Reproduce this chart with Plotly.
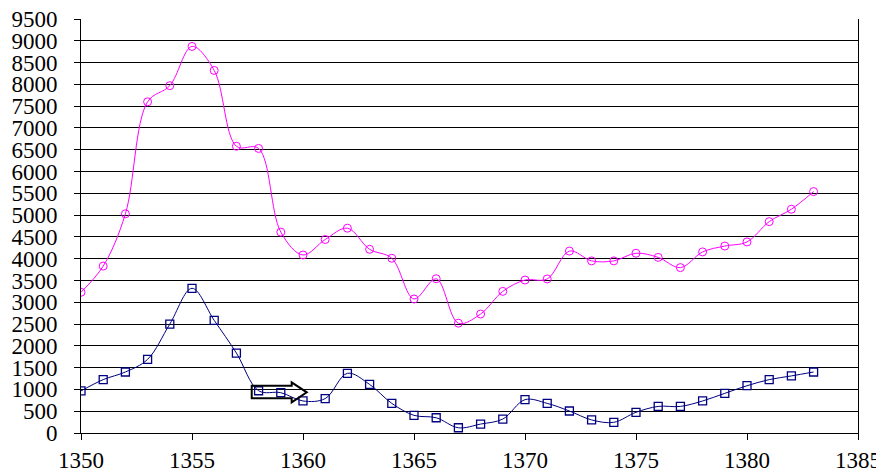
import plotly.graph_objects as go

years = list(range(1350, 1384))
magenta_vals = [3230, 3830, 5030, 7600, 7970, 8870, 8320, 6580, 6530, 4610,
                4085, 4440, 4700, 4215, 4010, 3075, 3540, 2520, 2730, 3250,
                3510, 3535, 4175, 3950, 3950, 4125, 4030, 3795, 4155, 4290,
                4385, 4850, 5135, 5540]
navy_vals = [965, 1225, 1400, 1690, 2500, 3320, 2585, 1835, 970, 925,
             735, 790, 1370, 1115, 680, 405, 350, 120, 205, 320,
             765, 680, 505, 300, 245, 475, 610, 610, 735, 910,
             1085, 1225, 1310, 1400]
y_ticks = list(range(0, 9501, 500))
x_ticks = list(range(1350, 1386, 5))

# block-arrow annotation (data coordinates)
arrow_x = [1357.69, 1359.49, 1359.49, 1360.17, 1359.49, 1359.49, 1357.69]
arrow_y = [1086, 1086, 1163, 934, 704, 796, 796]

fig = go.Figure()
fig.add_trace(go.Scatter(
    x=years, y=magenta_vals, mode="lines+markers",
    line=dict(color="#FF00FF", width=1, shape="spline", smoothing=1.0),
    marker=dict(symbol="circle-open", size=8, color="#FF00FF", line=dict(width=1)),
    showlegend=False))
fig.add_trace(go.Scatter(
    x=years, y=navy_vals, mode="lines+markers",
    line=dict(color="#000080", width=1, shape="spline", smoothing=1.0),
    marker=dict(symbol="square-open", size=8, color="#000080", line=dict(width=1.3)),
    showlegend=False))

path = "M " + " L ".join(f"{x},{y}" for x, y in zip(arrow_x, arrow_y)) + " Z"
fig.add_shape(type="path", path=path, xref="x", yref="y",
              line=dict(color="black", width=2), fillcolor="rgba(0,0,0,0)")

font = dict(family="Times New Roman, Liberation Serif, serif", size=23, color="black")
fig.update_layout(
    width=876, height=464,
    margin=dict(l=73, r=26, t=11, b=39, autoexpand=False),
    paper_bgcolor="white", plot_bgcolor="white",
    font=font,
    xaxis=dict(range=[1350, 1385], tickvals=x_ticks, showgrid=False,
               showline=True, linecolor="black", linewidth=1,
               ticks="outside", ticklen=6, tickcolor="black",
               zeroline=False, tickfont=font, automargin=False,
               ticklabeloverflow="allow"),
    yaxis=dict(range=[0, 9500], tickvals=y_ticks, showgrid=True,
               gridcolor="black", gridwidth=1,
               showline=True, linecolor="black", linewidth=1, mirror=True,
               ticks="outside", ticklen=6, tickcolor="black",
               ticklabelstandoff=12, ticklabeloverflow="allow",
               zeroline=False, tickfont=font, automargin=False),
)
fig.write_html("out.html")
